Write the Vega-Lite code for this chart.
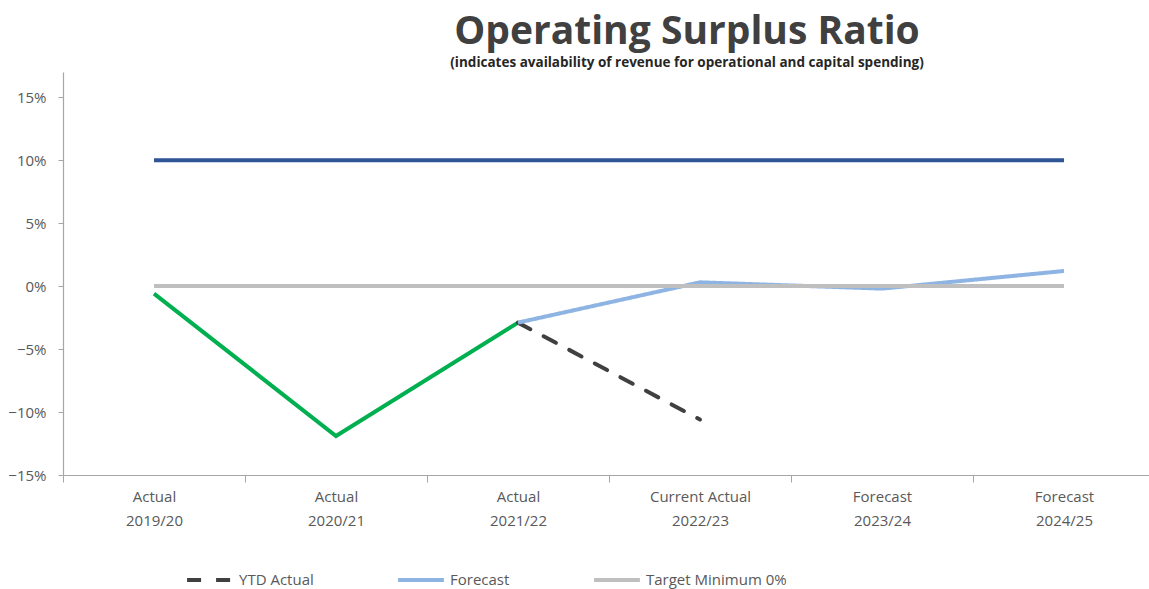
{
  "$schema": "https://vega.github.io/schema/vega-lite/v6.json",
  "width": 1092,
  "height": 403,
  "autosize": {"type": "none"},
  "padding": {"left": 63, "top": 72, "right": 0, "bottom": 114},
  "background": "white",
  "title": {
    "text": "Operating Surplus Ratio",
    "subtitle": "(indicates availability of revenue for operational and capital spending)",
    "anchor": "middle",
    "dx": 78,
    "font": "Open Sans",
    "fontSize": 39,
    "fontWeight": "bold",
    "color": "#404040",
    "subtitleFont": "Open Sans",
    "subtitleFontSize": 13.5,
    "subtitleFontWeight": "bold",
    "subtitleColor": "#262626",
    "subtitlePadding": 4,
    "offset": 3
  },
  "config": {
    "view": {"stroke": null},
    "axis": {
      "labelFont": "Open Sans",
      "labelFontSize": 15,
      "labelColor": "#595959",
      "domainColor": "#A6A6A6",
      "tickColor": "#A6A6A6",
      "domainWidth": 1.2,
      "grid": false
    },
    "legend": {
      "labelFont": "Open Sans",
      "labelFontSize": 15,
      "labelColor": "#595959"
    }
  },
  "data": {
    "values": [
      {"period": "Actual 2019/20", "series": "Benchmark", "value": 0.10},
      {"period": "Actual 2020/21", "series": "Benchmark", "value": 0.10},
      {"period": "Actual 2021/22", "series": "Benchmark", "value": 0.10},
      {"period": "Current Actual 2022/23", "series": "Benchmark", "value": 0.10},
      {"period": "Forecast 2023/24", "series": "Benchmark", "value": 0.10},
      {"period": "Forecast 2024/25", "series": "Benchmark", "value": 0.10},
      {"period": "Actual 2019/20", "series": "Actual", "value": -0.006},
      {"period": "Actual 2020/21", "series": "Actual", "value": -0.119},
      {"period": "Actual 2021/22", "series": "Actual", "value": -0.029},
      {"period": "Actual 2021/22", "series": "YTD Actual", "value": -0.029},
      {"period": "Current Actual 2022/23", "series": "YTD Actual", "value": -0.106},
      {"period": "Actual 2021/22", "series": "Forecast", "value": -0.029},
      {"period": "Current Actual 2022/23", "series": "Forecast", "value": 0.003},
      {"period": "Forecast 2023/24", "series": "Forecast", "value": -0.002},
      {"period": "Forecast 2024/25", "series": "Forecast", "value": 0.012},
      {"period": "Actual 2019/20", "series": "Target Minimum 0%", "value": 0},
      {"period": "Actual 2020/21", "series": "Target Minimum 0%", "value": 0},
      {"period": "Actual 2021/22", "series": "Target Minimum 0%", "value": 0},
      {"period": "Current Actual 2022/23", "series": "Target Minimum 0%", "value": 0},
      {"period": "Forecast 2023/24", "series": "Target Minimum 0%", "value": 0},
      {"period": "Forecast 2024/25", "series": "Target Minimum 0%", "value": 0}
    ]
  },
  "encoding": {
    "x": {
      "field": "period",
      "type": "nominal",
      "bandPosition": 0.5,
      "scale": {
        "type": "band",
        "paddingInner": 0,
        "paddingOuter": 0,
        "domain": ["Actual 2019/20", "Actual 2020/21", "Actual 2021/22", "Current Actual 2022/23", "Forecast 2023/24", "Forecast 2024/25"]
      },
      "axis": {
        "title": null,
        "labelAngle": 0,
        "tickBand": "extent",
        "tickSize": 7,
        "labelPadding": 7,
        "labelLineHeight": 24,
        "labelExpr": "[slice(datum.label, 0, lastindexof(datum.label, ' ')), slice(datum.label, lastindexof(datum.label, ' ') + 1)]"
      }
    },
    "y": {
      "field": "value",
      "type": "quantitative",
      "scale": {"domain": [-0.15, 0.17], "nice": false, "zero": false},
      "axis": {
        "title": null,
        "values": [-0.15, -0.1, -0.05, 0, 0.05, 0.1, 0.15],
        "format": ".0%",
        "tickSize": 5,
        "labelPadding": 12
      }
    }
  },
  "layer": [
    {
      "transform": [{"filter": "datum.series === 'Benchmark'"}],
      "mark": {"type": "line", "color": "#2F5597", "strokeWidth": 4}
    },
    {
      "transform": [{"filter": "datum.series === 'Actual'"}],
      "mark": {"type": "line", "color": "#00B050", "strokeWidth": 4}
    },
    {
      "transform": [{"filter": "datum.series === 'YTD Actual'"}],
      "mark": {"type": "line", "strokeWidth": 4, "strokeCap": "round"},
      "encoding": {
        "color": {"datum": "YTD Actual", "type": "nominal"},
        "strokeDash": {"datum": "YTD Actual", "type": "nominal"}
      }
    },
    {
      "transform": [{"filter": "datum.series === 'Forecast'"}],
      "mark": {"type": "line", "strokeWidth": 4},
      "encoding": {
        "color": {"datum": "Forecast", "type": "nominal"},
        "strokeDash": {"datum": "Forecast", "type": "nominal"}
      }
    },
    {
      "transform": [{"filter": "datum.series === 'Target Minimum 0%'"}],
      "mark": {"type": "line", "strokeWidth": 4},
      "encoding": {
        "color": {
          "datum": "Target Minimum 0%",
          "type": "nominal",
          "scale": {
            "domain": ["YTD Actual", "Forecast", "Target Minimum 0%"],
            "range": ["#404040", "#8EB4E3", "#BFBFBF"]
          },
          "legend": {
            "title": null,
            "orient": "none",
            "legendX": 122,
            "legendY": 483,
            "direction": "horizontal",
            "symbolType": "stroke",
            "symbolSize": 2100,
            "symbolStrokeWidth": 4,
            "labelOffset": 4,
            "columnPadding": 76
          }
        },
        "strokeDash": {
          "datum": "Target Minimum 0%",
          "type": "nominal",
          "scale": {
            "domain": ["YTD Actual", "Forecast", "Target Minimum 0%"],
            "range": [[14, 15], [1, 0], [1, 0]]
          },
          "legend": {
            "title": null,
            "orient": "none",
            "legendX": 122,
            "legendY": 483,
            "direction": "horizontal",
            "symbolType": "stroke",
            "symbolSize": 2100,
            "symbolStrokeWidth": 4,
            "labelOffset": 4,
            "columnPadding": 76
          }
        }
      }
    }
  ]
}
